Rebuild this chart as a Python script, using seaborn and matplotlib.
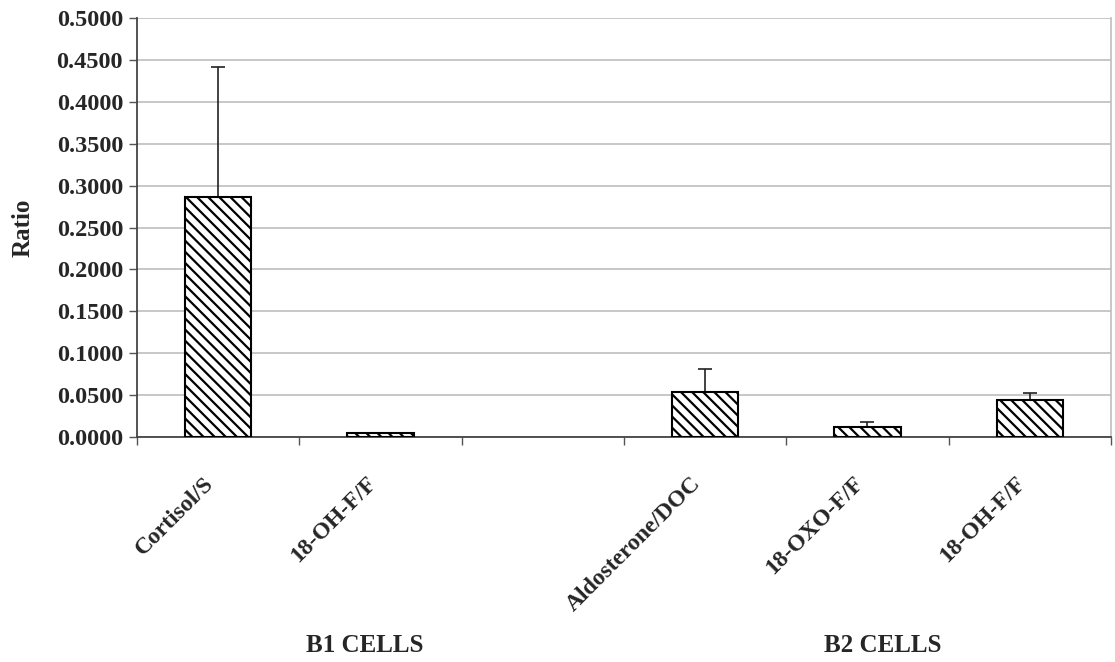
import numpy as np
import pandas as pd
import seaborn as sns
import matplotlib.pyplot as plt
from matplotlib.ticker import FixedLocator, FormatStrFormatter

# data (one empty slot between the two cell groups)
slots = ['s1', 's2', 'gap', 's4', 's5', 's6']
tick_labels = ['Cortisol/S', '18-OH-F/F', '', 'Aldosterone/DOC', '18-OXO-F/F', '18-OH-F/F']
ratio = [0.2868, 0.0048, np.nan, 0.0533, 0.0123, 0.0442]
ratio_err = [0.1551, 0.0, np.nan, 0.0278, 0.0056, 0.0087]
groups = ['B1 CELLS', 'B2 CELLS']

sns.set_theme(style='white')
plt.rcParams['font.family'] = ['Liberation Serif', 'DejaVu Serif']
plt.rcParams['font.weight'] = 'bold'
plt.rcParams['hatch.linewidth'] = 1.6
plt.rcParams['hatch.color'] = 'black'

df = pd.DataFrame({'slot': slots, 'ratio': ratio})

fig = plt.figure(figsize=(11.15, 6.62), dpi=100)
ax = fig.add_axes([137 / 1115, 1 - 437 / 662, 974 / 1115, 419 / 662])

sns.barplot(data=df, x='slot', y='ratio', order=slots, color='white',
            edgecolor='black', linewidth=1.5, width=0.41, hatch='\\\\\\',
            errorbar=None, ax=ax, zorder=3)

pos = np.arange(len(slots))
err = np.array(ratio_err)
ax.errorbar(pos, ratio, yerr=[np.zeros_like(err), err], fmt='none',
            ecolor='#222222', elinewidth=1.2, capsize=5, capthick=1.2, zorder=2)

ax.set_ylim(0, 0.5)
ax.set_xlim(-0.5, len(slots) - 0.5)
ax.set_yticks(np.arange(0, 0.5001, 0.05))
ax.yaxis.set_major_formatter(FormatStrFormatter('%.4f'))
ax.yaxis.grid(True, color='#bdbdbd', linewidth=1.2, zorder=0)
ax.set_axisbelow(True)

ax.set_xticks(pos)
ax.set_xticklabels(tick_labels, rotation=45, ha='right', fontsize=17, fontweight='bold')
ax.xaxis.set_minor_locator(FixedLocator(np.arange(-0.5, len(slots), 1.0)))
ax.tick_params(axis='x', which='major', length=0, pad=26)
ax.tick_params(axis='x', which='minor', length=6, width=1, color='#555555', bottom=True)
ax.tick_params(axis='y', length=6, width=1, color='#555555', left=True, labelsize=17.5, pad=4)
for lab in ax.get_yticklabels():
    lab.set_fontweight('bold')

ax.set_xlabel('')
ax.set_ylabel('Ratio', fontsize=18, fontweight='bold')
ax.yaxis.set_label_coords(-0.105, 0.5)

for side in ['left', 'bottom']:
    ax.spines[side].set_color('#444444')
    ax.spines[side].set_linewidth(1.3)
ax.spines['right'].set_color('#bdbdbd')
ax.spines['right'].set_linewidth(1.2)
ax.spines['top'].set_visible(False)

fig.text(365 / 1115, 1 - 645 / 662, groups[0], ha='center', va='center',
         fontsize=18, fontweight='bold')
fig.text(883 / 1115, 1 - 645 / 662, groups[1], ha='center', va='center',
         fontsize=18, fontweight='bold')

fig.savefig('out.png', dpi=100)
